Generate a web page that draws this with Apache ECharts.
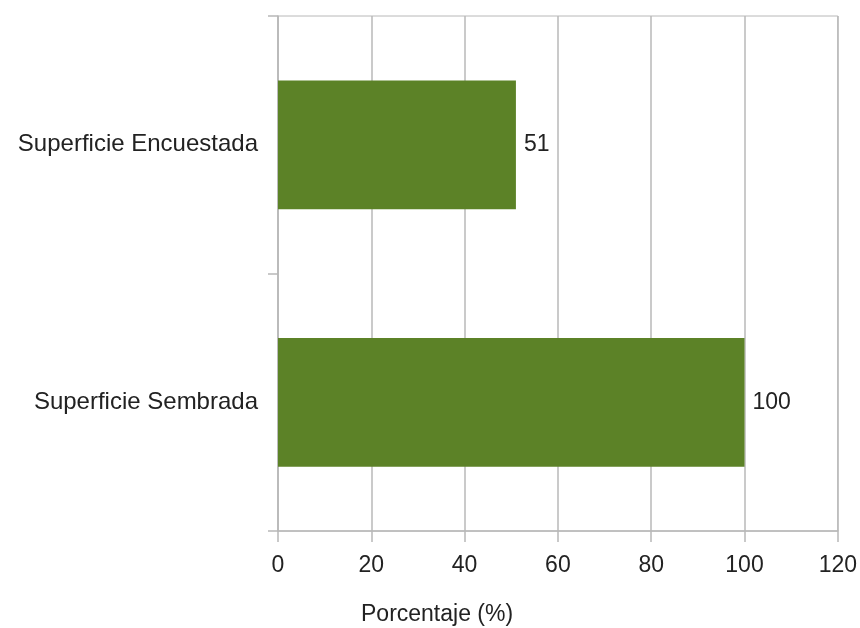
<!DOCTYPE html>
<html>
<head>
<meta charset="utf-8">
<script src="https://cdn.jsdelivr.net/npm/echarts@6/dist/echarts.min.js"></script>
<style>html,body{margin:0;padding:0;background:#fff;}#c{width:860px;height:628px;}</style>
</head>
<body>
<div id="c"></div>
<script>
var categories = ['Superficie Sembrada', 'Superficie Encuestada'];
var values = [100, 51];
var xTicks = { min: 0, max: 120, interval: 20 };
var axisTitle = 'Porcentaje (%)';

var chart = echarts.init(document.getElementById('c'), null, { renderer: 'canvas' });
var font = 'Liberation Sans, Arial, sans-serif';
var gridColor = '#b8b8b8';
chart.setOption({
  animation: false,
  backgroundColor: '#ffffff',
  title: {
    text: axisTitle,
    left: 356, top: 598,
    textStyle: { fontFamily: font, fontSize: 23, fontWeight: 'normal', color: '#222' }
  },
  grid: { left: 278, right: 22, top: 16, bottom: 97, show: true, borderColor: gridColor, borderWidth: 1 },
  xAxis: {
    type: 'value', min: xTicks.min, max: xTicks.max, interval: xTicks.interval,
    axisLine: { show: true, lineStyle: { color: gridColor, width: 1.5 } },
    axisTick: { show: true, length: 11, lineStyle: { color: gridColor, width: 1.5 } },
    splitLine: { show: true, lineStyle: { color: gridColor, width: 1.5 } },
    axisLabel: { margin: 23, fontFamily: font, fontSize: 23, color: '#222' }
  },
  yAxis: {
    type: 'category', data: categories,
    axisLine: { show: true, lineStyle: { color: gridColor, width: 1.5 } },
    axisTick: { show: true, length: 10, lineStyle: { color: gridColor, width: 1.5 } },
    splitLine: { show: false },
    axisLabel: { margin: 20, fontFamily: font, fontSize: 24, color: '#222' }
  },
  series: [{
    type: 'bar', data: values, barWidth: '50%',
    itemStyle: { color: '#5c8227' },
    label: { show: true, position: 'right', distance: 8, fontFamily: font, fontSize: 23, color: '#222' }
  }]
});
</script>
</body>
</html>
